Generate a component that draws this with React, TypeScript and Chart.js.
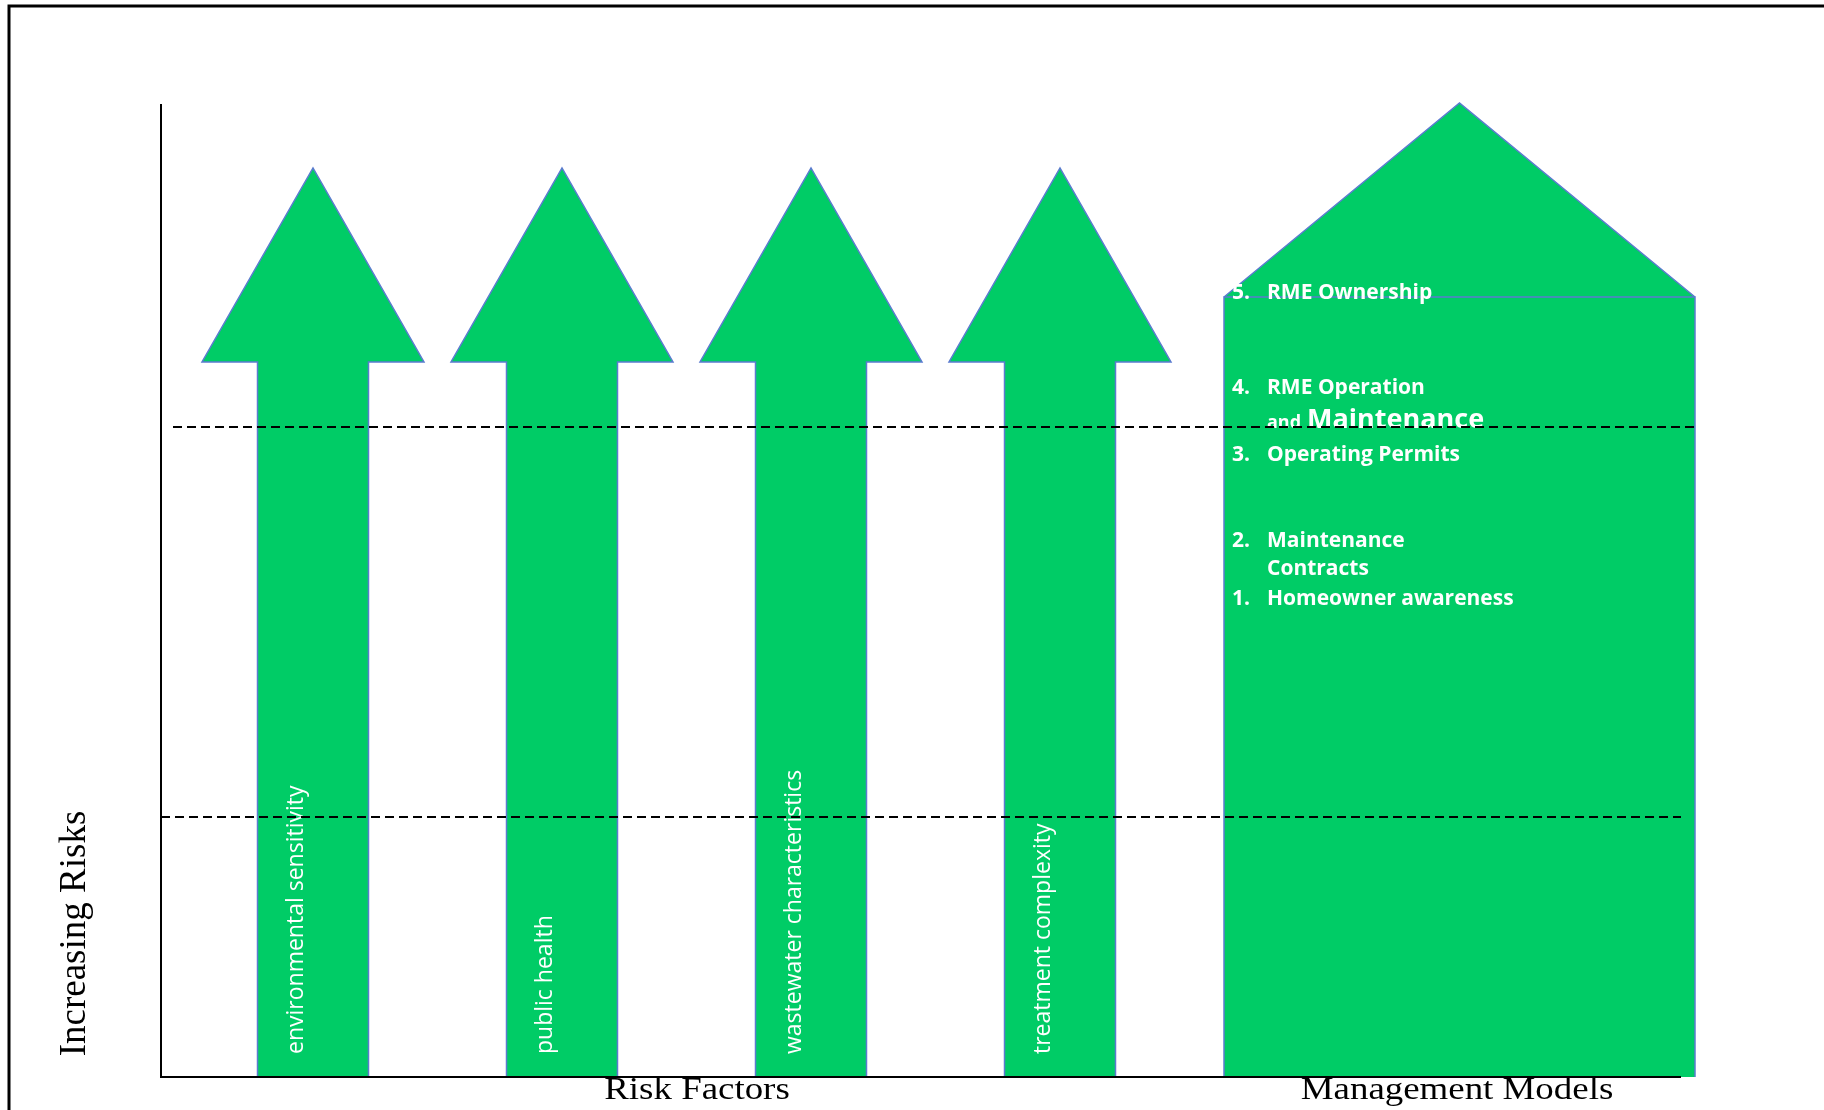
import React, { useEffect, useRef } from 'react';
import { Chart, registerables } from 'chart.js';

Chart.register(...registerables);

// ---- Diagram values (x: horizontal diagram units, y: risk height above the base axis) ----
const riskFactors = [
  'environmental sensitivity',
  'public health',
  'wastewater characteristics',
  'treatment complexity',
];
const arrowCenters = [313, 562, 811, 1060];
const arrowTip = 909;
const arrowHeadBase = 715;
const arrowHeadHalfWidth = 111;
const arrowShaftHalfWidth = 55.5;

const houseLeft = 1224;
const houseRight = 1695;
const houseWallTop = 780;
const houseRoofTip = 974;

const managementModels = [
  '1.|Homeowner awareness',
  '2.|Maintenance',
  '|Contracts',
  '3.|Operating Permits',
  '4.|RME Operation',
  '5.|RME Ownership',
];
const managementLevels = [472, 530, 502, 616, 683, 778];

const thresholdLevels = [650, 260];
const thresholdStarts = [173, 161];
const thresholdEnds = [1695, 1681];

const axisOriginX = 161;
const axisTop = 973;
const axisRight = 1681;

const X_MIN = 0;
const X_MAX = 1824;
const Y_MIN = -33;
const Y_MAX = 1077;

const GREEN = '#00CC66';
const EDGE = '#5B7BCF';

const W = 1824;
const H = 1110;

function shaftPoints(cx: number) {
  return [
    { x: cx - arrowShaftHalfWidth, y: 0 },
    { x: cx - arrowShaftHalfWidth, y: arrowHeadBase },
    { x: cx + arrowShaftHalfWidth, y: arrowHeadBase },
    { x: cx + arrowShaftHalfWidth, y: 0 },
  ];
}
function headPoints(cx: number) {
  return [
    { x: cx - arrowHeadHalfWidth, y: arrowHeadBase },
    { x: cx, y: arrowTip },
    { x: cx + arrowHeadHalfWidth, y: arrowHeadBase },
  ];
}
function outlinePoints(cx: number) {
  return [
    { x: cx - arrowShaftHalfWidth, y: 0 },
    { x: cx - arrowShaftHalfWidth, y: arrowHeadBase },
    { x: cx - arrowHeadHalfWidth, y: arrowHeadBase },
    { x: cx, y: arrowTip },
    { x: cx + arrowHeadHalfWidth, y: arrowHeadBase },
    { x: cx + arrowShaftHalfWidth, y: arrowHeadBase },
    { x: cx + arrowShaftHalfWidth, y: 0 },
  ];
}

const textPlugin = {
  id: 'diagramText',
  afterDatasetDraw(chart: any, args: any) {
    const ds = chart.data.datasets[args.index];
    if (ds.label !== 'House walls') return;
    const ctx = chart.ctx as CanvasRenderingContext2D;
    const xs = chart.scales.x;
    const ys = chart.scales.y;
    ctx.save();
    ctx.fillStyle = '#ffffff';
    // arrow labels
    ctx.font = '23px "Open Sans"';
    ctx.textAlign = 'left';
    ctx.textBaseline = 'alphabetic';
    riskFactors.forEach((label, i) => {
      const px = xs.getPixelForValue(arrowCenters[i]) - 10;
      const py = ys.getPixelForValue(23);
      ctx.save();
      ctx.translate(px, py);
      ctx.rotate(-Math.PI / 2);
      ctx.fillText(label, 0, 0);
      ctx.restore();
    });
    // house list
    const numX = xs.getPixelForValue(houseLeft + 8);
    const txtX = xs.getPixelForValue(houseLeft + 43);
    managementModels.forEach((entry, i) => {
      const [num, text] = entry.split('|');
      const py = ys.getPixelForValue(managementLevels[i]);
      ctx.font = 'bold 21px "Open Sans"';
      if (num) ctx.fillText(num, numX, py);
      ctx.fillText(text, txtX, py);
    });
    // "and Maintenance" line (mixed sizes)
    const andY = ys.getPixelForValue(649);
    ctx.font = 'bold 18px "Open Sans"';
    ctx.fillText('and', txtX, andY);
    const andW = ctx.measureText('and').width + 6;
    ctx.font = 'bold 27px "Open Sans"';
    ctx.fillText('Maintenance', txtX + andW, andY);
    ctx.restore();
  },
  afterDraw(chart: any) {
    const ctx = chart.ctx as CanvasRenderingContext2D;
    const xs = chart.scales.x;
    const ys = chart.scales.y;
    ctx.save();
    ctx.fillStyle = '#000000';
    ctx.textBaseline = 'alphabetic';
    ctx.textAlign = 'center';
    // y-axis title
    ctx.font = '37px "Liberation Serif"';
    ctx.save();
    ctx.translate(xs.getPixelForValue(85), ys.getPixelForValue(143.5));
    ctx.rotate(-Math.PI / 2);
    ctx.fillText('Increasing Risks', 0, 0);
    ctx.restore();
    // group titles
    ctx.font = '31px "Liberation Serif"';
    const titles: [string, number][] = [
      ['Risk Factors', 697],
      ['Management Models', 1457],
    ];
    titles.forEach(([t, cx]) => {
      ctx.save();
      ctx.translate(xs.getPixelForValue(cx), ys.getPixelForValue(-22));
      ctx.scale(1.19, 1);
      ctx.fillText(t, 0, 0);
      ctx.restore();
    });
    ctx.restore();
  },
};

export default function App() {
  const ref = useRef<HTMLCanvasElement>(null);
  useEffect(() => {
    const datasets: any[] = [];
    arrowCenters.forEach((cx, i) => {
      datasets.push({
        label: `${riskFactors[i]} shaft`,
        data: shaftPoints(cx),
        borderWidth: 0,
        borderColor: 'rgba(0,0,0,0)',
        backgroundColor: GREEN,
        fill: 'origin',
        order: 8,
      });
      datasets.push({
        label: `${riskFactors[i]} head`,
        data: headPoints(cx),
        borderWidth: 0,
        borderColor: 'rgba(0,0,0,0)',
        backgroundColor: GREEN,
        fill: { value: arrowHeadBase },
        order: 8,
      });
      datasets.push({
        label: `${riskFactors[i]} outline`,
        data: outlinePoints(cx),
        borderWidth: 1.5,
        borderColor: EDGE,
        fill: false,
        order: 7,
      });
    });
    datasets.push({
      label: 'House roof',
      data: [
        { x: houseLeft, y: houseWallTop },
        { x: (houseLeft + houseRight) / 2, y: houseRoofTip },
        { x: houseRight, y: houseWallTop },
      ],
      borderWidth: 1.5,
      borderColor: EDGE,
      backgroundColor: GREEN,
      fill: { value: houseWallTop },
      order: 6,
    });
    datasets.push({
      label: 'House walls',
      data: [
        { x: houseLeft, y: 0 },
        { x: houseLeft, y: houseWallTop },
        { x: houseRight, y: houseWallTop },
        { x: houseRight, y: 0 },
      ],
      borderWidth: 1.5,
      borderColor: EDGE,
      backgroundColor: GREEN,
      fill: 'origin',
      order: 5,
    });
    thresholdLevels.forEach((lvl, i) => {
      datasets.push({
        label: `threshold ${i + 1}`,
        data: [
          { x: thresholdStarts[i], y: lvl },
          { x: thresholdEnds[i], y: lvl },
        ],
        borderWidth: 2,
        borderColor: '#000000',
        borderDash: [9, 5],
        fill: false,
        order: 2,
      });
    });
    datasets.push({
      label: 'y axis',
      data: [
        { x: axisOriginX, y: axisTop },
        { x: axisOriginX, y: 0 },
        { x: axisRight, y: 0 },
      ],
      borderWidth: 2,
      borderColor: '#000000',
      fill: false,
      order: 1,
    });
    datasets.push({
      label: 'frame',
      data: [
        { x: 9, y: Y_MIN },
        { x: 9, y: 1071 },
        { x: X_MAX, y: 1071 },
      ],
      borderWidth: 3,
      borderColor: '#000000',
      fill: false,
      order: 1,
    });

    const chart = new Chart(ref.current!, {
      type: 'line',
      data: { datasets },
      options: {
        responsive: false,
        maintainAspectRatio: false,
        animation: false,
        events: [],
        layout: { padding: 0 },
        elements: {
          point: { radius: 0, hoverRadius: 0 },
          line: { tension: 0, borderJoinStyle: 'miter', borderCapStyle: 'butt' },
        },
        plugins: {
          legend: { display: false },
          tooltip: { enabled: false },
          title: { display: false },
        },
        scales: {
          x: { type: 'linear', min: X_MIN, max: X_MAX, display: false },
          y: { type: 'linear', min: Y_MIN, max: Y_MAX, display: false },
        },
      },
      plugins: [textPlugin],
    } as any);
    return () => chart.destroy();
  }, []);

  return (
    <div style={{ position: 'fixed', left: 0, top: 0, width: W, height: H, background: '#ffffff' }}>
      <canvas ref={ref} width={W} height={H} style={{ width: W, height: H, display: 'block' }} />
    </div>
  );
}
